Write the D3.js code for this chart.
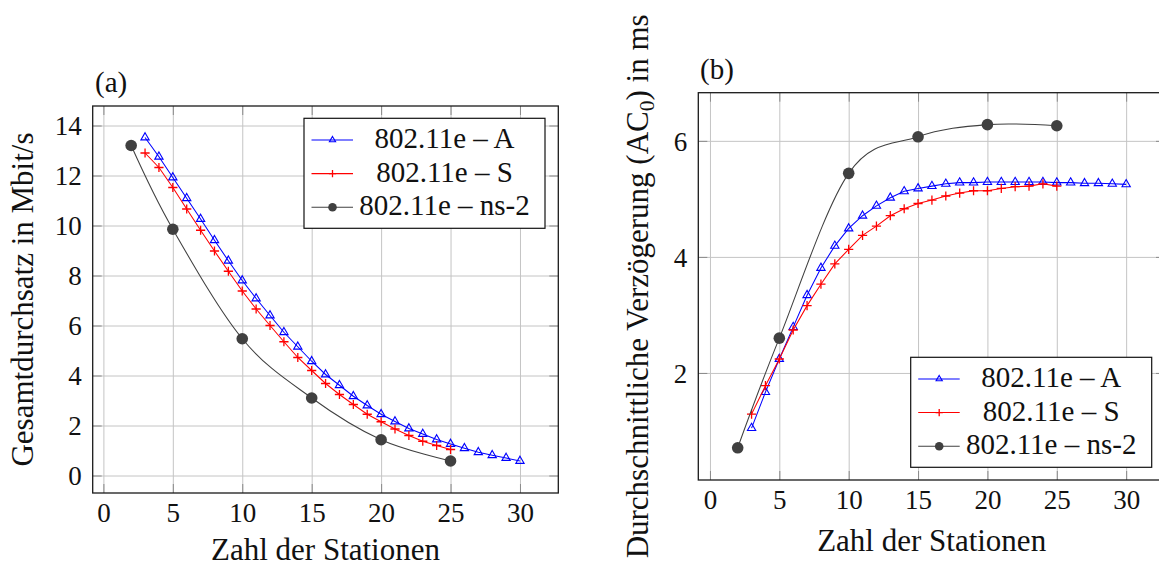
<!DOCTYPE html>
<html>
<head>
<meta charset="utf-8">
<script src="https://cdn.jsdelivr.net/npm/d3@7"></script>
<style>
  html, body { margin: 0; padding: 0; background: #fff; }
  svg { display: block; }
  text { font-family: "Liberation Serif", "DejaVu Serif", serif; fill: #111; }
</style>
</head>
<body>
<svg id="chart" width="1159" height="567"></svg>
<script>
// ---- data -------------------------------------------------------------
const seriesNames = ["802.11e \u2013 A", "802.11e \u2013 S", "802.11e \u2013 ns-2"];
const xTickValues = [0, 5, 10, 15, 20, 25, 30];

// (a) total throughput [Mbit/s]
const throughputTicks = [0, 2, 4, 6, 8, 10, 12, 14];
const stationsA = [3, 4, 5, 6, 7, 8, 9, 10, 11, 12, 13, 14, 15, 16, 17, 18, 19, 20, 21, 22, 23, 24, 25, 26, 27, 28, 29, 30];
const stationsS = [3, 4, 5, 6, 7, 8, 9, 10, 11, 12, 13, 14, 15, 16, 17, 18, 19, 20, 21, 22, 23, 24, 25];
const stationsNs2 = [2, 5, 10, 15, 20, 25];
const throughputA = [13.52, 12.75, 11.92, 11.09, 10.26, 9.41, 8.59, 7.80, 7.08, 6.40, 5.73, 5.15, 4.57, 4.04,
                     3.61, 3.17, 2.80, 2.45, 2.16, 1.88, 1.66, 1.44, 1.26, 1.09, 0.93, 0.81, 0.70, 0.58];
const throughputS = [12.90, 12.32, 11.52, 10.66, 9.81, 8.98, 8.17, 7.38, 6.66, 6.00, 5.35, 4.72, 4.20, 3.68,
                     3.24, 2.84, 2.45, 2.15, 1.86, 1.60, 1.37, 1.20, 1.04];
const throughputNs2 = [13.20, 9.85, 5.47, 3.10, 1.43, 0.58];

// (b) mean delay of AC0 [ms]
const delayTicks = [2, 4, 6];
const delayA = [1.05, 1.67, 2.24, 2.79, 3.34, 3.81, 4.19, 4.49, 4.71, 4.88, 5.02, 5.13, 5.18, 5.22,
                5.26, 5.28, 5.28, 5.29, 5.29, 5.29, 5.29, 5.29, 5.28, 5.28, 5.27, 5.27, 5.26, 5.25];
const delayS = [1.29, 1.78, 2.24, 2.74, 3.16, 3.53, 3.88, 4.13, 4.37, 4.53, 4.71, 4.83, 4.92, 4.98,
                5.05, 5.10, 5.14, 5.14, 5.18, 5.21, 5.22, 5.26, 5.22];
const delayNs2 = [0.71, 2.60, 5.44, 6.07, 6.28, 6.26];

// ---- styling ----------------------------------------------------------
const colA = "#0000ff", colS = "#ff0000", colN = "#404040";
const gridCol = "#c4c4c4", tickCol = "#8a8a8a";
const tickFont = 27, labelFont = 31, legendFont = 29;

const svg = d3.select("#chart");

function triangle(sel, r) {
  // equilateral triangle, circumcentre at the origin
  const pts = [[0, -r], [r * Math.sin(Math.PI / 3), r / 2], [-r * Math.sin(Math.PI / 3), r / 2]];
  sel.append("path").attr("d", "M" + pts.join("L") + "Z")
    .attr("fill", "none").attr("stroke", colA).attr("stroke-width", 1.1);
}
function plus(sel, r) {
  sel.append("path").attr("d", `M${-r},0H${r}M0,${-r}V${r}`)
    .attr("stroke", colS).attr("stroke-width", 1.3).attr("fill", "none");
}
function dot(sel, r) {
  sel.append("circle").attr("r", r).attr("fill", colN);
}

function panel(cfg) {
  const { left, right, top, bottom, xDomain, yDomain, yTicks, series, legend, tag, tagPos, yLabel, yLabelX, xLabelY } = cfg;
  const x = d3.scaleLinear().domain(xDomain).range([left, right]);
  const y = d3.scaleLinear().domain(yDomain).range([bottom, top]);
  const g = svg.append("g");
  const h = bottom - top, w = right - left;

  // grid
  const grid = g.append("g").attr("stroke", gridCol);
  grid.append("g").attr("transform", `translate(0,${bottom})`)
    .call(d3.axisBottom(x).tickValues(xTickValues).tickSize(-h).tickFormat(""))
    .call(a => { a.select(".domain").remove(); a.selectAll("line").attr("stroke", gridCol).attr("stroke-width", 1); });
  grid.append("g").attr("transform", `translate(${left},0)`)
    .call(d3.axisLeft(y).tickValues(yTicks).tickSize(-w).tickFormat(""))
    .call(a => { a.select(".domain").remove(); a.selectAll("line").attr("stroke", gridCol).attr("stroke-width", 1); });

  // inner tick marks on all four sides
  const tl = 9;
  const tickSides = [
    [d3.axisBottom(x).tickValues(xTickValues), `translate(0,${bottom})`],
    [d3.axisTop(x).tickValues(xTickValues), `translate(0,${top})`],
    [d3.axisLeft(y).tickValues(yTicks), `translate(${left},0)`],
    [d3.axisRight(y).tickValues(yTicks), `translate(${right},0)`]
  ];
  tickSides.forEach(([ax, tr]) => {
    g.append("g").attr("transform", tr)
      .call(ax.tickSize(-tl).tickFormat(""))
      .call(a => { a.select(".domain").remove(); a.selectAll("line").attr("stroke", tickCol).attr("stroke-width", 1); });
  });

  // tick labels
  g.append("g").attr("transform", `translate(0,${bottom})`)
    .call(d3.axisBottom(x).tickValues(xTickValues).tickSize(0).tickPadding(10).tickFormat(d3.format("d")))
    .call(a => { a.select(".domain").remove(); a.selectAll("text").attr("font-size", tickFont).attr("font-family", "Liberation Serif").attr("fill", "#111"); });
  g.append("g").attr("transform", `translate(${left},0)`)
    .call(d3.axisLeft(y).tickValues(yTicks).tickSize(0).tickPadding(11).tickFormat(d3.format("d")))
    .call(a => { a.select(".domain").remove(); a.selectAll("text").attr("font-size", tickFont).attr("font-family", "Liberation Serif").attr("fill", "#111").attr("dy", "0.34em"); });

  // series
  series.forEach(s => {
    const pts = s.xs.map((v, i) => [x(v), y(s.ys[i])]);
    const line = d3.line().curve(s.smooth ? d3.curveCardinal.tension(0) : d3.curveLinear);
    g.append("path").attr("d", line(pts)).attr("fill", "none")
      .attr("stroke", s.color).attr("stroke-width", 1.05);
    pts.forEach(p => s.mark(g.append("g").attr("transform", `translate(${p[0]},${p[1]})`), s.size));
  });

  // frame
  g.append("rect").attr("x", left).attr("y", top).attr("width", w).attr("height", h)
    .attr("fill", "none").attr("stroke", "#1a1a1a").attr("stroke-width", 1.3);

  // legend
  const lg = g.append("g").attr("transform", `translate(${legend.x},${legend.y})`);
  lg.append("rect").attr("width", 241).attr("height", 110)
    .attr("fill", "#fff").attr("stroke", "#111").attr("stroke-width", 1.2);
  series.forEach((s, i) => {
    const cy = 21.7 + i * 33.6;
    lg.append("line").attr("x1", 7.5).attr("x2", 49).attr("y1", cy).attr("y2", cy)
      .attr("stroke", s.color).attr("stroke-width", 1.05);
    s.mark(lg.append("g").attr("transform", `translate(28.5,${cy})`), s.legendSize);
    lg.append("text").attr("x", 140.5).attr("y", cy + 8.3).attr("text-anchor", "middle")
      .attr("font-size", legendFont).text(s.name);
  });

  // panel tag
  svg.append("text").attr("x", tagPos[0]).attr("y", tagPos[1]).attr("font-size", 29).text(tag);

  // axis titles
  svg.append("text").attr("x", (left + right) / 2).attr("y", xLabelY)
    .attr("text-anchor", "middle").attr("font-size", labelFont).text("Zahl der Stationen");
  const yl = svg.append("text")
    .attr("transform", `translate(${yLabelX},${(top + bottom) / 2}) rotate(-90)`)
    .attr("text-anchor", "middle").attr("font-size", labelFont);
  yLabel(yl);
}

const seriesFor = (ya, ys, yn) => [
  { name: seriesNames[0], xs: stationsA, ys: ya, color: colA, mark: triangle, size: 4.8, legendSize: 3.6, smooth: false },
  { name: seriesNames[1], xs: stationsS, ys: ys, color: colS, mark: plus, size: 4.6, legendSize: 3.6, smooth: false },
  { name: seriesNames[2], xs: stationsNs2, ys: yn, color: colN, mark: dot, size: 5.8, legendSize: 4.3, smooth: true }
];

panel({
  left: 92.7, right: 558.3, top: 106, bottom: 493,
  xDomain: [-0.77, 32.76], yDomain: [-0.7, 14.78], yTicks: throughputTicks,
  series: seriesFor(throughputA, throughputS, throughputNs2),
  legend: { x: 304, y: 118.3 },
  tag: "(a)", tagPos: [95, 92],
  yLabelX: 33, xLabelY: 560,
  yLabel: t => t.text("Gesamtdurchsatz in Mbit/s")
});

panel({
  left: 698.3, right: 1165, top: 92.7, bottom: 480,
  xDomain: [-0.84, 32.8], yDomain: [0.155, 6.83], yTicks: delayTicks,
  series: seriesFor(delayA, delayS, delayNs2),
  legend: { x: 910.7, y: 357.3 },
  tag: "(b)", tagPos: [700, 79],
  yLabelX: 648, xLabelY: 551,
  yLabel: t => {
    t.append("tspan").text("Durchschnittliche Verzögerung (AC");
    t.append("tspan").attr("font-size", labelFont * 0.7).attr("dy", 6).text("0");
    t.append("tspan").attr("dy", -6).text(") in ms");
  }
});
</script>
</body>
</html>
